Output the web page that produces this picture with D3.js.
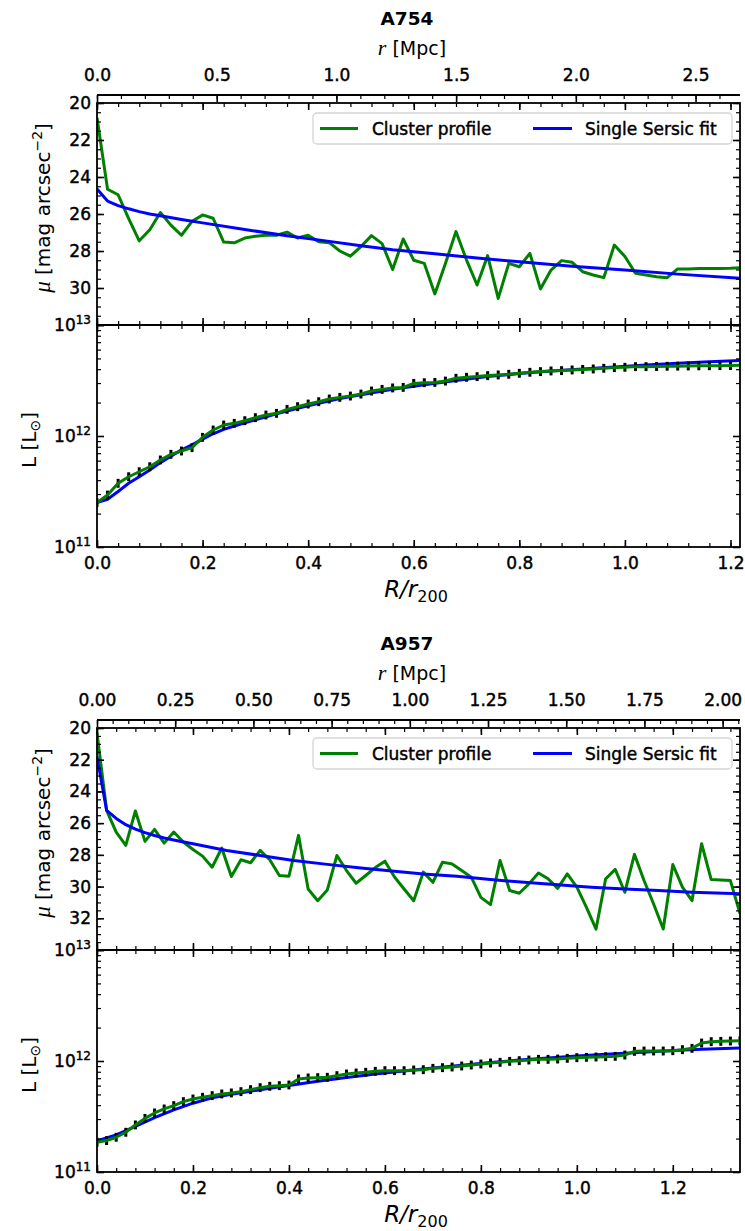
<!DOCTYPE html>
<html><head><meta charset="utf-8">
<script src="https://cdn.jsdelivr.net/npm/d3@7"></script>
<style>
body{margin:0;background:#fff}
svg text{font-family:"DejaVu Sans",sans-serif;fill:#000}
.heavy{stroke:#000;stroke-width:0.45px}
</style></head><body>
<svg id="fig" width="745" height="1231"></svg>
<script>
// ---- A754 : radial bins (R/r200), surface brightness and cumulative luminosity ----
const radA754 = [0,0.02,0.04,0.06,0.08,0.1,0.12,0.14,0.16,0.18,0.2,0.22,0.24,0.26,0.28,0.3,0.32,0.34,0.36,0.38,0.4,0.42,0.44,0.46,0.48,0.5,0.52,0.54,0.56,0.58,0.6,0.62,0.64,0.66,0.68,0.7,0.72,0.74,0.76,0.78,0.8,0.82,0.84,0.86,0.88,0.9,0.92,0.94,0.96,0.98,1.0,1.02,1.04,1.06,1.08,1.1,1.12,1.14,1.16,1.18,1.2,1.22];
const muA754 = [20.8,24.66,24.96,26.25,27.45,26.85,25.92,26.6,27.15,26.4,26.05,26.23,27.52,27.56,27.3,27.2,27.15,27.15,26.98,27.3,27.15,27.5,27.55,28.0,28.28,27.76,27.17,27.6,29.0,27.35,28.5,28.67,30.32,28.67,26.95,28.49,29.84,28.25,30.56,28.67,28.85,28.13,30.05,29.03,28.52,28.61,29.12,29.3,29.44,27.68,28.3,29.2,29.3,29.39,29.44,28.97,28.97,28.95,28.95,28.94,28.93,28.9];
const logLumA754 = [11.40,11.468,11.574,11.633,11.678,11.723,11.784,11.835,11.865,11.895,11.988,12.054,12.099,12.114,12.138,12.165,12.189,12.204,12.24,12.264,12.288,12.309,12.333,12.348,12.36,12.378,12.405,12.42,12.433,12.438,12.474,12.48,12.483,12.495,12.52,12.529,12.535,12.544,12.55,12.556,12.565,12.574,12.58,12.586,12.589,12.595,12.6,12.604,12.61,12.616,12.619,12.625,12.625,12.626,12.628,12.629,12.631,12.632,12.633,12.634,12.635,12.637];
// single Sersic fit for A754
const fitRadMuA754 = [0,0.02,0.04,0.06,0.08,0.1,0.12,0.16,0.2,0.28,0.36,0.44,0.5,0.56,0.64,0.72,0.8,0.9,1.0,1.1,1.22];
const fitMuA754 = [24.65,25.3,25.55,25.72,25.87,26.0,26.1,26.3,26.48,26.84,27.17,27.48,27.72,27.93,28.15,28.38,28.58,28.82,29.03,29.25,29.48];
const fitRadLumA754 = [0,0.02,0.04,0.06,0.08,0.1,0.12,0.14,0.16,0.18,0.2,0.22,0.24,0.26,0.28,0.3,0.34,0.38,0.42,0.46,0.5,0.56,0.62,0.68,0.74,0.8,0.86,0.92,0.98,1.04,1.1,1.16,1.22];
const fitLogLumA754 = [11.40,11.43,11.5,11.574,11.633,11.694,11.76,11.818,11.875,11.92,11.972,12.02,12.06,12.09,12.118,12.145,12.2,12.25,12.295,12.338,12.372,12.42,12.462,12.5,12.535,12.563,12.586,12.604,12.622,12.64,12.655,12.668,12.68];

// ---- A957 ----
const radA957 = [0,0.02,0.04,0.06,0.08,0.1,0.12,0.14,0.16,0.18,0.2,0.22,0.24,0.26,0.28,0.3,0.32,0.34,0.36,0.38,0.4,0.42,0.44,0.46,0.48,0.5,0.52,0.54,0.56,0.58,0.6,0.62,0.64,0.66,0.68,0.7,0.72,0.74,0.76,0.78,0.8,0.82,0.84,0.86,0.88,0.9,0.92,0.94,0.96,0.98,1.0,1.02,1.04,1.06,1.08,1.1,1.12,1.14,1.16,1.18,1.2,1.22,1.24,1.26,1.28,1.3,1.32,1.34];
const muA957 = [20.3,25.19,26.56,27.4,25.23,27.15,26.39,27.26,26.56,27.19,27.66,28.08,28.78,27.57,29.37,28.31,28.5,27.72,28.31,29.3,29.35,26.77,30.15,30.89,30.21,28.04,28.99,29.79,29.3,28.8,28.4,29.4,30.15,30.89,29.09,29.73,28.46,28.57,28.99,29.41,30.68,31.14,28.35,30.25,30.42,29.83,29.14,29.51,30.11,29.2,30.04,31.31,32.68,29.51,28.92,30.36,27.97,29.62,31.1,32.68,28.61,30.04,30.89,27.3,29.56,29.58,29.62,31.7];
const logLumA957 = [11.268,11.283,11.313,11.358,11.424,11.483,11.532,11.568,11.598,11.634,11.658,11.673,11.688,11.703,11.712,11.724,11.742,11.76,11.772,11.778,11.784,11.838,11.847,11.85,11.853,11.868,11.883,11.892,11.898,11.907,11.913,11.913,11.913,11.919,11.922,11.934,11.94,11.946,11.955,11.964,11.973,11.982,11.988,11.997,12.003,12.009,12.015,12.015,12.018,12.024,12.03,12.033,12.036,12.039,12.042,12.054,12.087,12.09,12.09,12.09,12.093,12.102,12.114,12.162,12.174,12.177,12.18,12.183];
const fitRadMuA957 = [0,0.02,0.04,0.06,0.08,0.1,0.12,0.14,0.17,0.2,0.27,0.34,0.41,0.48,0.55,0.62,0.68,0.75,0.82,0.89,0.96,1.03,1.1,1.17,1.24,1.34];
const fitMuA957 = [21.8,25.19,25.7,26.1,26.38,26.6,26.78,26.94,27.13,27.3,27.72,28.04,28.35,28.6,28.83,29.03,29.2,29.35,29.56,29.73,29.89,30.04,30.15,30.25,30.36,30.46];
const fitRadLumA957 = [0,0.04,0.08,0.12,0.16,0.2,0.24,0.28,0.32,0.36,0.4,0.46,0.52,0.58,0.64,0.7,0.76,0.82,0.88,0.94,1.0,1.06,1.12,1.18,1.26,1.34];
const fitLogLumA957 = [11.28,11.335,11.41,11.49,11.56,11.62,11.668,11.7,11.728,11.755,11.78,11.818,11.852,11.882,11.91,11.937,11.962,11.986,12.008,12.027,12.044,12.06,12.075,12.09,12.105,12.117];

// cluster names, r200 [Mpc], plotted R/r200 range, magnitude range
const clusterNames = ["A754", "A957"];
const r200Mpc = [2.205, 1.534];
const radMax = [1.218, 1.34];
const muMax = [32, 34];
const mpcTickStep = [0.5, 0.25];
const mpcMinorStep = [0.1, 0.05];
const mpcTickFormat = [".1f", ".2f"];
const lumErrDex = 0.04;   // half-height of the luminosity error bars

const legendLabels = ["Cluster profile", "Single Sersic fit"];
const profileColor = "#008000", fitColor = "#0000ff";

const fig = d3.select("#fig");
const X0 = 97, X1 = 740;
const FS = 17;

const clusters = [
  {name: clusterNames[0], dy: 0, rad: radA754, mu: muA754, logL: logLumA754,
   fRadMu: fitRadMuA754, fMu: fitMuA754, fRadL: fitRadLumA754, fLogL: fitLogLumA754},
  {name: clusterNames[1], dy: 625, rad: radA957, mu: muA957, logL: logLumA957,
   fRadMu: fitRadMuA957, fMu: fitMuA957, fRadL: fitRadLumA957, fLogL: fitLogLumA957}
];
clusters.forEach((c, i) => {
  c.rMax = radMax[i]; c.r200 = r200Mpc[i]; c.muMax = muMax[i];
  c.mpcStep = mpcTickStep[i]; c.mpcMinor = mpcMinorStep[i]; c.mpcFmt = mpcTickFormat[i];
});

function rangeInc(a, b, s) {
  const n = Math.floor((b - a) / s + 1e-6);
  return d3.range(n + 1).map(k => +(a + k * s).toFixed(6));
}

function putAxis(g, axis, tx, ty, width) {
  const s = g.append("g").attr("transform", `translate(${tx},${ty})`).call(axis);
  s.select(".domain").remove();
  s.attr("font-size", FS).attr("font-family", "DejaVu Sans, sans-serif");
  s.selectAll(".tick line").attr("stroke", "#000").attr("stroke-width", width);
  s.selectAll(".tick text").attr("class", "heavy");
  return s;
}

function drawCluster(c, idx) {
  const g = fig.append("g").attr("transform", `translate(0,${c.dy})`);
  const muTop = 103, mid = 325, bot = 547, mpcY = 95;
  const x = d3.scaleLinear().domain([0, c.rMax]).range([X0, X1]);
  const xMpc = d3.scaleLinear().domain([0, c.rMax * c.r200]).range([X0, X1]);
  const yMu = d3.scaleLinear().domain([20, c.muMax]).range([muTop, mid]);
  const yL = d3.scaleLog().domain([1e11, 1e13]).range([bot, mid]);

  const clipMu = "clipMu" + idx, clipL = "clipL" + idx;
  const defs = g.append("defs");
  defs.append("clipPath").attr("id", clipMu).append("rect")
    .attr("x", X0).attr("y", muTop).attr("width", X1 - X0).attr("height", mid - muTop);
  defs.append("clipPath").attr("id", clipL).append("rect")
    .attr("x", X0).attr("y", mid).attr("width", X1 - X0).attr("height", bot - mid);

  // title and top (physical radius) axis label
  g.append("text").attr("x", 407).attr("y", 25).attr("text-anchor", "middle")
    .attr("font-size", 18.5).attr("font-weight", "bold").text(c.name);
  const rl = g.append("text").attr("x", 412).attr("y", 55).attr("text-anchor", "middle").attr("font-size", 19);
  rl.append("tspan").attr("font-family", "Liberation Serif, serif").attr("font-style", "italic").attr("font-size", 22).text("r");
  rl.append("tspan").text(" [Mpc]");

  // ---- surface brightness panel ----
  const muPts = c.rad.map((r, i) => [r, c.mu[i]]);
  const fitMuPts = c.fRadMu.map((r, i) => [r, c.fMu[i]]);
  const lineMu = d3.line().x(d => x(d[0])).y(d => yMu(d[1]));
  const pm = g.append("g").attr("clip-path", `url(#${clipMu})`);
  pm.append("path").datum(muPts).attr("d", lineMu).attr("fill", "none")
    .attr("stroke", profileColor).attr("stroke-width", 3).attr("stroke-linejoin", "round");
  pm.append("path").datum(fitMuPts).attr("d", lineMu).attr("fill", "none")
    .attr("stroke", fitColor).attr("stroke-width", 3).attr("stroke-linejoin", "round");

  const muMajor = rangeInc(20, c.muMax, 2);
  const muMinor = rangeInc(20, c.muMax, 0.5);
  putAxis(g, d3.axisLeft(yMu).tickValues(muMinor).tickSize(-4).tickFormat(""), X0, 0, 1.2);
  putAxis(g, d3.axisLeft(yMu).tickValues(muMajor).tickSize(-7).tickPadding(6)
    .tickFormat(d => d < c.muMax ? d3.format("d")(d) : ""), X0, 0, 1.6);
  putAxis(g, d3.axisRight(yMu).tickValues(muMinor).tickSize(-4).tickFormat(""), X1, 0, 1.2);
  putAxis(g, d3.axisRight(yMu).tickValues(muMajor).tickSize(-7).tickFormat(""), X1, 0, 1.6);

  const rMajor = rangeInc(0, c.rMax, 0.2);
  const rMinor = rangeInc(0, c.rMax, 0.04);
  // R/r200 ticks on both horizontal edges of each panel
  [[muTop, d3.axisTop], [mid, d3.axisBottom], [mid, d3.axisTop], [bot, d3.axisBottom]].forEach(([yy, ax]) => {
    putAxis(g, ax(x).tickValues(rMinor).tickSize(-4).tickFormat(""), 0, yy, 1.2);
    putAxis(g, ax(x).tickValues(rMajor).tickSize(-7).tickFormat(""), 0, yy, 1.6);
  });

  // physical radius axis above the panel
  g.append("line").attr("x1", X0).attr("x2", X1).attr("y1", mpcY).attr("y2", mpcY)
    .attr("stroke", "#000").attr("stroke-width", 1.8);
  const mpcMax = c.rMax * c.r200;
  putAxis(g, d3.axisTop(xMpc).tickValues(rangeInc(0, mpcMax, c.mpcMinor)).tickSize(-4).tickFormat(""), 0, mpcY, 1.2);
  putAxis(g, d3.axisTop(xMpc).tickValues(rangeInc(0, mpcMax, c.mpcStep)).tickSize(-7).tickPadding(14)
    .tickFormat(d3.format(c.mpcFmt)), 0, mpcY, 1.6);

  // legend
  const lx = 313, ly = muTop + 10, lw = 419, lh = 31, lc = ly + lh / 2;
  g.append("rect").attr("x", lx).attr("y", ly).attr("width", lw).attr("height", lh).attr("rx", 4)
    .attr("fill", "#fff").attr("fill-opacity", 0.8).attr("stroke", "#d5d5d5").attr("stroke-width", 1.3);
  [[320, 358, 372, profileColor, legendLabels[0]], [533, 572, 585, fitColor, legendLabels[1]]].forEach(([a, b, t, col, lab]) => {
    g.append("line").attr("x1", a).attr("x2", b).attr("y1", lc).attr("y2", lc).attr("stroke", col).attr("stroke-width", 3);
    g.append("text").attr("class", "heavy").attr("x", t).attr("y", lc + 6).attr("font-size", FS).text(lab);
  });

  // ---- cumulative luminosity panel ----
  const lumPts = c.rad.map((r, i) => [r, c.logL[i]]);
  const fitLPts = c.fRadL.map((r, i) => [r, c.fLogL[i]]);
  const lineL = d3.line().x(d => x(d[0])).y(d => yL(Math.pow(10, d[1])));
  const pl = g.append("g").attr("clip-path", `url(#${clipL})`);
  pl.append("path").datum(fitLPts).attr("d", lineL).attr("fill", "none")
    .attr("stroke", fitColor).attr("stroke-width", 3).attr("stroke-linejoin", "round");
  pl.selectAll("line.err").data(lumPts).join("line").attr("class", "err")
    .attr("x1", d => x(d[0])).attr("x2", d => x(d[0]))
    .attr("y1", d => yL(Math.pow(10, d[1] - lumErrDex))).attr("y2", d => yL(Math.pow(10, d[1] + lumErrDex)))
    .attr("stroke", "#000").attr("stroke-width", 3);
  pl.append("path").datum(lumPts).attr("d", lineL).attr("fill", "none")
    .attr("stroke", profileColor).attr("stroke-width", 3).attr("stroke-linejoin", "round");

  const lMajor = [1e11, 1e12, 1e13];
  const lMinor = [];
  [1e11, 1e12].forEach(p => { for (let k = 2; k <= 9; k++) lMinor.push(k * p); });
  putAxis(g, d3.axisLeft(yL).tickValues(lMinor).tickSize(-4).tickFormat(""), X0, 0, 1.2);
  putAxis(g, d3.axisLeft(yL).tickValues(lMajor).tickSize(-7).tickFormat(""), X0, 0, 1.6);
  putAxis(g, d3.axisRight(yL).tickValues(lMinor).tickSize(-4).tickFormat(""), X1, 0, 1.2);
  putAxis(g, d3.axisRight(yL).tickValues(lMajor).tickSize(-7).tickFormat(""), X1, 0, 1.6);
  lMajor.forEach(v => {
    const t = g.append("text").attr("class", "heavy").attr("x", X0 - 6).attr("y", yL(v) + 6)
      .attr("text-anchor", "end").attr("font-size", FS);
    t.append("tspan").text("10");
    t.append("tspan").attr("dy", -7).attr("font-size", 12).text(String(Math.round(Math.log10(v))));
  });

  putAxis(g, d3.axisBottom(x).tickValues(rMajor).tickSize(-7).tickPadding(10).tickFormat(d3.format(".1f")), 0, bot, 0);

  // frames
  [[muTop, mid], [mid, bot]].forEach(([a, b]) => {
    g.append("rect").attr("x", X0).attr("y", a).attr("width", X1 - X0).attr("height", b - a)
      .attr("fill", "none").attr("stroke", "#000").attr("stroke-width", 1.8);
  });

  // axis titles
  const xl = g.append("text").attr("x", 416).attr("y", 597).attr("text-anchor", "middle")
    .attr("font-family", "Liberation Serif, serif").attr("font-size", 23);
  xl.append("tspan").attr("font-style", "italic").text("R/r");
  xl.append("tspan").attr("dy", 5).attr("font-size", 16).text("200");

  const yl1 = g.append("text").attr("transform", `translate(50,${(muTop + mid) / 2 - 6}) rotate(-90)`)
    .attr("text-anchor", "middle").attr("font-size", 20);
  yl1.append("tspan").attr("font-family", "Liberation Serif, serif").attr("font-style", "italic").attr("font-size", 23).text("μ");
  yl1.append("tspan").text(" [mag arcsec");
  yl1.append("tspan").attr("dy", -8).attr("font-size", 14).text("−2");
  yl1.append("tspan").attr("dy", 8).text("]");

  const yl2 = g.append("text").attr("transform", `translate(36,${(mid + bot) / 2 + 4}) rotate(-90)`)
    .attr("text-anchor", "middle").attr("font-size", 20);
  yl2.append("tspan").text("L [L");
  yl2.append("tspan").attr("dy", 4).attr("font-size", 14).text("⊙");
  yl2.append("tspan").attr("dy", -4).text("]");
}

clusters.forEach(drawCluster);
</script>
</body></html>
